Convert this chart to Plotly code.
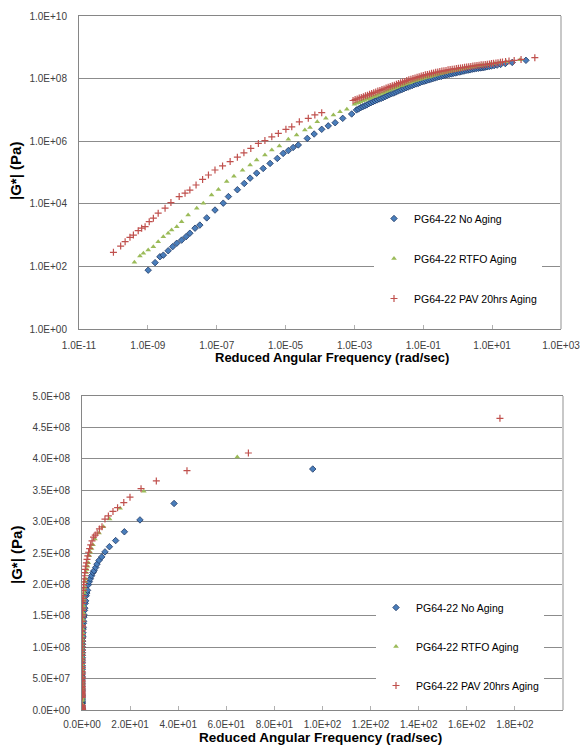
import plotly.graph_objects as go

# ---------------- data (log10 values) ----------------
# PG64-22 No Aging
no_aging_log_w = [
    -8.99, -8.79, -8.65, -8.55, -8.41, -8.28, -8.16, -8.02, -7.89, -7.78, -7.63, -7.49,
    -7.29, -7.05, -6.81, -6.66, -6.40, -6.20, -6.03, -5.84, -5.65, -5.45, -5.24, -5.07,
    -4.92, -4.78, -4.63, -4.37, -4.17, -3.95, -3.76, -3.56, -3.34, -3.08,
    -2.94, -2.88, -2.82, -2.76, -2.70, -2.64, -2.58, -2.52, -2.46, -2.40, -2.34, -2.28,
    -2.22, -2.16, -2.10, -2.04, -1.98, -1.92, -1.86, -1.80, -1.74, -1.68, -1.62, -1.56,
    -1.50, -1.44, -1.38, -1.32, -1.26, -1.20, -1.14, -1.08, -1.02, -0.96, -0.90, -0.84,
    -0.78, -0.72, -0.66, -0.60, -0.54, -0.48, -0.42, -0.36, -0.30, -0.24, -0.18, -0.12,
    -0.06, 0.00, 0.06, 0.12, 0.18, 0.24, 0.30, 0.36, 0.42, 0.48, 0.54, 0.60, 0.66,
    0.700, 0.756, 0.795, 0.849, 0.914, 0.980, 1.057, 1.146, 1.246, 1.382, 1.583, 1.982,
]
no_aging_log_g = [
    1.88, 2.12, 2.31, 2.36, 2.50, 2.63, 2.74, 2.84, 2.95, 3.06, 3.22, 3.32,
    3.55, 3.80, 4.02, 4.23, 4.45, 4.65, 4.82, 4.98, 5.13, 5.29, 5.45, 5.61,
    5.70, 5.80, 5.88, 6.09, 6.23, 6.38, 6.49, 6.59, 6.73, 6.87,
    7.00, 7.03, 7.07, 7.10, 7.13, 7.16, 7.20, 7.23, 7.26, 7.29, 7.32, 7.35,
    7.37, 7.40, 7.43, 7.46, 7.49, 7.52, 7.54, 7.57, 7.60, 7.63, 7.65, 7.68,
    7.71, 7.73, 7.76, 7.78, 7.81, 7.83, 7.85, 7.88, 7.90, 7.92, 7.94, 7.96,
    7.98, 8.00, 8.02, 8.04, 8.06, 8.07, 8.09, 8.11, 8.12, 8.14, 8.15, 8.17,
    8.18, 8.20, 8.21, 8.23, 8.24, 8.26, 8.27, 8.28, 8.30, 8.31, 8.32, 8.33, 8.34,
    8.346, 8.356, 8.366, 8.377, 8.387, 8.401, 8.415, 8.431, 8.453, 8.481, 8.517, 8.584,
]

# PG64-22 RTFO Aging
rtfo_log_w = [
    -9.39, -9.23, -9.13, -8.99, -8.84, -8.70, -8.55, -8.41, -8.31, -8.16, -8.02, -7.83,
    -7.58, -7.39, -7.15, -6.95, -6.71, -6.50, -6.25, -6.03, -5.84, -5.60, -5.40, -5.18,
    -4.92, -4.68, -4.44, -4.29, -4.08, -3.83, -3.61, -3.42, -3.22,
    -3.00, -2.94, -2.88, -2.82, -2.76, -2.70, -2.64, -2.58, -2.52, -2.46, -2.40, -2.34,
    -2.28, -2.22, -2.16, -2.10, -2.04, -1.98, -1.92, -1.86, -1.80, -1.74, -1.68, -1.62,
    -1.56, -1.50, -1.44, -1.38, -1.32, -1.26, -1.20, -1.14, -1.08, -1.02, -0.96, -0.90,
    -0.84, -0.78, -0.72, -0.66, -0.60, -0.54, -0.48, -0.42, -0.36, -0.30, -0.24, -0.18,
    -0.12, -0.06, 0.00, 0.06, 0.12, 0.18, 0.24, 0.30, 0.36, 0.42, 0.48, 0.54, 0.60, 0.66,
    0.73, 0.85, 0.95, 1.06, 1.20, 1.41, 1.81,
]
rtfo_log_g = [
    2.13, 2.33, 2.42, 2.52, 2.63, 2.79, 2.95, 3.06, 3.16, 3.27, 3.43, 3.64,
    3.86, 4.02, 4.28, 4.46, 4.71, 4.88, 5.07, 5.24, 5.40, 5.56, 5.72, 5.85,
    6.06, 6.20, 6.36, 6.44, 6.62, 6.73, 6.84, 6.94, 7.02,
    7.18, 7.21, 7.23, 7.26, 7.29, 7.31, 7.34, 7.36, 7.39, 7.42, 7.44, 7.47,
    7.50, 7.52, 7.55, 7.58, 7.60, 7.63, 7.66, 7.68, 7.71, 7.73, 7.76, 7.78,
    7.81, 7.83, 7.85, 7.87, 7.90, 7.92, 7.94, 7.96, 7.98, 8.00, 8.02, 8.04,
    8.05, 8.07, 8.09, 8.11, 8.13, 8.15, 8.16, 8.18, 8.19, 8.21, 8.22, 8.24,
    8.25, 8.27, 8.28, 8.29, 8.31, 8.32, 8.34, 8.35, 8.36, 8.37, 8.39, 8.40, 8.41, 8.42,
    8.435, 8.450, 8.465, 8.483, 8.507, 8.542, 8.605,
]

# PG64-22 PAV 20hrs Aging
pav_log_w = [
    -10.00, -9.79, -9.66, -9.52, -9.42, -9.28, -9.18, -9.08, -8.96, -8.84, -8.70, -8.50,
    -8.33, -8.09, -7.92, -7.78, -7.60, -7.41, -7.24, -7.05, -6.83, -6.61, -6.40, -6.21,
    -6.01, -5.79, -5.60, -5.40, -5.21, -4.99, -4.82, -4.60, -4.34, -4.15, -3.95,
    -3.04, -2.98, -2.92, -2.86, -2.80, -2.74, -2.68, -2.62, -2.56, -2.50, -2.44, -2.38,
    -2.32, -2.26, -2.20, -2.14, -2.08, -2.02, -1.96, -1.90, -1.84, -1.78, -1.72, -1.66,
    -1.60, -1.54, -1.48, -1.42, -1.36, -1.30, -1.24, -1.18, -1.12, -1.06, -1.00, -0.94,
    -0.88, -0.82, -0.76, -0.70, -0.64, -0.58, -0.52, -0.46, -0.40, -0.34, -0.28, -0.22,
    -0.16, -0.10, -0.04, 0.02, 0.08, 0.14, 0.20, 0.26, 0.32, 0.38, 0.44, 0.50, 0.56,
    0.62, 0.68, 0.74, 0.80, 0.86, 0.92,
    0.98, 1.04, 1.11, 1.17, 1.24, 1.30, 1.39, 1.49, 1.64, 1.84, 2.24,
]
pav_log_g = [
    2.45, 2.65, 2.79, 2.93, 3.00, 3.14, 3.22, 3.27, 3.43, 3.54, 3.70, 3.86,
    4.04, 4.23, 4.34, 4.44, 4.60, 4.78, 4.92, 5.08, 5.21, 5.35, 5.49, 5.63,
    5.77, 5.93, 6.02, 6.14, 6.25, 6.38, 6.46, 6.62, 6.73, 6.84, 6.91,
    7.30, 7.33, 7.35, 7.38, 7.40, 7.42, 7.45, 7.47, 7.50, 7.52, 7.55, 7.57,
    7.60, 7.62, 7.65, 7.67, 7.70, 7.72, 7.75, 7.77, 7.79, 7.82, 7.84, 7.87,
    7.89, 7.91, 7.94, 7.96, 7.98, 8.00, 8.02, 8.04, 8.06, 8.08, 8.10, 8.12,
    8.13, 8.15, 8.17, 8.18, 8.20, 8.21, 8.23, 8.24, 8.25, 8.26, 8.28, 8.29,
    8.30, 8.31, 8.32, 8.33, 8.34, 8.35, 8.36, 8.37, 8.38, 8.39, 8.40, 8.41, 8.42,
    8.43, 8.44, 8.445, 8.45, 8.46, 8.465,
    8.483, 8.490, 8.500, 8.508, 8.519, 8.530, 8.547, 8.562, 8.581, 8.612, 8.667,
]

series_names = ["PG64-22 No Aging", "PG64-22 RTFO Aging", "PG64-22 PAV 20hrs Aging"]

# tick labels
top_x_tickvals = [1e-11, 1e-9, 1e-7, 1e-5, 1e-3, 1e-1, 1e1, 1e3]
top_x_ticktext = ["1.0E-11", "1.0E-09", "1.0E-07", "1.0E-05", "1.0E-03", "1.0E-01", "1.0E+01", "1.0E+03"]
top_y_tickvals = [1e0, 1e2, 1e4, 1e6, 1e8, 1e10]
top_y_ticktext = ["1.0E+00", "1.0E+02", "1.0E+04", "1.0E+06", "1.0E+08", "1.0E+10"]
bot_x_tickvals = [0, 20, 40, 60, 80, 100, 120, 140, 160, 180, 200]
bot_x_ticktext = ["0.0E+00", "2.0E+01", "4.0E+01", "6.0E+01", "8.0E+01", "1.0E+02",
                  "1.2E+02", "1.4E+02", "1.6E+02", "1.8E+02", "2.0E+02"]
bot_y_tickvals = [0, 5e7, 1e8, 1.5e8, 2e8, 2.5e8, 3e8, 3.5e8, 4e8, 4.5e8, 5e8]
bot_y_ticktext = ["0.0E+00", "5.0E+07", "1.0E+08", "1.5E+08", "2.0E+08", "2.5E+08",
                  "3.0E+08", "3.5E+08", "4.0E+08", "4.5E+08", "5.0E+08"]

x_title = "Reduced Angular Frequency (rad/sec)"
y_title = "|G*| (Pa)"

# ---------------- figure ----------------
W, H = 582, 745
FONT = "Liberation Sans, Arial, sans-serif"
TICK_COLOR = "#404040"
GRID = "#8c8c8c"

pairs = [(no_aging_log_w, no_aging_log_g), (rtfo_log_w, rtfo_log_g), (pav_log_w, pav_log_g)]
for a, b in pairs:
    assert len(a) == len(b), (len(a), len(b))

markers = [
    dict(symbol="diamond", size=5, color="#4A7EBB", line=dict(color="#1F3864", width=0.8)),
    dict(symbol="triangle-up", size=5, color="#9BBB59", line=dict(color="#9BBB59", width=0)),
    dict(symbol="cross-thin", size=5, color="#C0504D", line=dict(color="#C0504D", width=1.2)),
]

fig = go.Figure()
for i, ((lw, lg), name, mk) in enumerate(zip(pairs, series_names, markers)):
    w = [10 ** v for v in lw]
    g = [10 ** v for v in lg]
    fig.add_trace(go.Scatter(x=w, y=g, mode="markers", name=name, marker=mk,
                             xaxis="x", yaxis="y", legend="legend", legendgroup=f"t{i}"))
    fig.add_trace(go.Scatter(x=w, y=g, mode="markers", name=name, marker=mk,
                             xaxis="x2", yaxis="y2", legend="legend2", legendgroup=f"b{i}"))

def dom_x(l, r):
    return [l / W, r / W]

def dom_y(top, bottom):
    return [1 - bottom / H, 1 - top / H]

axis_common = dict(
    tickfont=dict(family=FONT, size=10, color=TICK_COLOR),
    showline=True, linecolor="#868686", linewidth=1, zeroline=False,
    automargin=False,
)

fig.update_layout(
    width=W, height=H,
    margin=dict(l=0, r=0, t=0, b=0),
    paper_bgcolor="white", plot_bgcolor="white",
    font=dict(family=FONT, color="#000000"),
    xaxis=dict(domain=dom_x(79, 561), anchor="y", type="log", range=[-11, 3],
               tickvals=top_x_tickvals, ticktext=top_x_ticktext, showgrid=False,
               ticks="inside", ticklen=4, tickcolor="#b0b0b0", mirror=True,
               ticklabelstandoff=7, **axis_common),
    yaxis=dict(domain=dom_y(16, 329), anchor="x", type="log", range=[0, 10],
               tickvals=top_y_tickvals, ticktext=top_y_ticktext, showgrid=True,
               gridcolor=GRID, gridwidth=1, ticks="", ticklabelstandoff=9, **axis_common),
    xaxis2=dict(domain=dom_x(82, 563), anchor="y2", range=[0, 200],
                tickvals=bot_x_tickvals, ticktext=bot_x_ticktext, showgrid=False,
                ticks="inside", ticklen=4, tickcolor="#b0b0b0", mirror=True,
                ticklabelstandoff=5, **axis_common),
    yaxis2=dict(domain=dom_y(396, 710), anchor="x2", range=[0, 5e8],
                tickvals=bot_y_tickvals, ticktext=bot_y_ticktext, showgrid=True,
                gridcolor=GRID, gridwidth=1, ticks="", ticklabelstandoff=9, **axis_common),
    legend=dict(x=374 / W, y=1 - 204 / H, xanchor="left", yanchor="top",
                bgcolor="white", borderwidth=0, tracegroupgap=21,
                font=dict(family=FONT, size=10.5, color="#000000")),
    legend2=dict(x=376 / W, y=1 - 593 / H, xanchor="left", yanchor="top",
                 bgcolor="white", borderwidth=0, tracegroupgap=20,
                 font=dict(family=FONT, size=10.5, color="#000000")),
    showlegend=True,
)

# right-hand plot-area borders
for xr, yr in (("x domain", "y domain"), ("x2 domain", "y2 domain")):
    fig.add_shape(type="line", xref=xr, yref=yr, x0=1, x1=1, y0=0, y1=1,
                  line=dict(color="#c8c8c8", width=2))

# axis titles
fig.add_annotation(text=f"<b>{x_title}</b>", xref="paper", yref="paper",
                   x=332 / W, y=1 - 357 / H, showarrow=False,
                   font=dict(family=FONT, size=13, color="#000000"),
                   xanchor="center", yanchor="middle")
fig.add_annotation(text=f"<b>{x_title}</b>", xref="paper", yref="paper",
                   x=320 / W, y=1 - 737.5 / H, showarrow=False,
                   font=dict(family=FONT, size=13.5, color="#000000"),
                   xanchor="center", yanchor="middle")
fig.add_annotation(text=f"<b>{y_title}</b>", xref="paper", yref="paper",
                   x=16 / W, y=1 - 171 / H, showarrow=False, textangle=-90,
                   font=dict(family=FONT, size=15, color="#000000"),
                   xanchor="center", yanchor="middle")
fig.add_annotation(text=f"<b>{y_title}</b>", xref="paper", yref="paper",
                   x=16 / W, y=1 - 555 / H, showarrow=False, textangle=-90,
                   font=dict(family=FONT, size=15, color="#000000"),
                   xanchor="center", yanchor="middle")

fig.write_html("out.html")
